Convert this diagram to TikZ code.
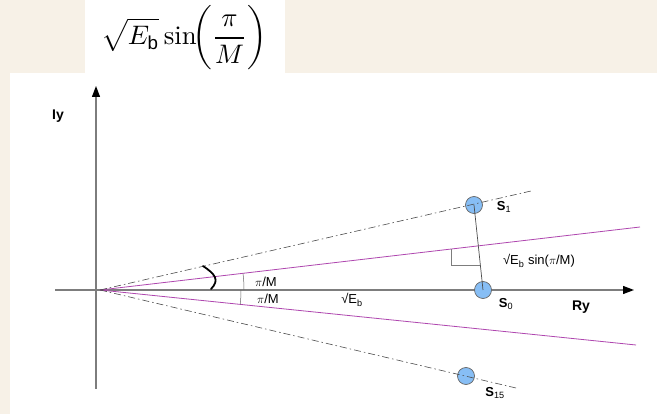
\documentclass[tikz,border=0pt]{standalone}
\usepackage{fontspec}
\usepackage{graphicx}
\setsansfont{Liberation Sans}
\usetikzlibrary{arrows.meta}

\definecolor{faded}{RGB}{247,241,231}
\definecolor{axisgray}{RGB}{125,125,125}
\definecolor{raypurple}{RGB}{175,70,175}
\definecolor{pointblue}{RGB}{135,190,245}

\begin{document}
\begin{tikzpicture}[x=1pt, y=-1pt,
        axis/.style = {axisgray, line width=1.3pt,
            -{Triangle[length=11pt, width=8pt, black]}},
        ray/.style = {raypurple, line width=0.8pt},
        dashdot/.style = {black!70, line width=0.6pt,
            dash pattern=on 7pt off 3pt on 1.5pt off 3pt},
        point/.style = {circle, draw=black!60, fill=pointblue,
            minimum size=17pt, inner sep=0pt, line width=0.7pt},
        lbl/.style = {font=\sffamily\fontsize{13}{15}\selectfont, inner sep=1pt},
        slbl/.style = {font=\sffamily\bfseries\fontsize{13}{15}\selectfont, inner sep=1pt}]
    % faded page behind the figure
    \fill[faded] (0,0) rectangle (657,414);
    \fill[white] (10,73) rectangle (657,414);
    \fill[white] (85,0) rectangle (285,73);
    \useasboundingbox (0,0) rectangle (657,414);

    \node[inner sep=0pt] (formula) at (184,38)
        {\resizebox{166pt}{!}{$\displaystyle\sqrt{E_{\mathsf{b}}}\sin\!\biggl(\frac{\pi}{M}\biggr)$}};

    % axes
    \coordinate (o) at (100,290);
    \coordinate (ybot) at (96,389);
    \coordinate (ytop) at (96,86);
    \coordinate (xleft) at (55,290);
    \coordinate (xright) at (634,290);
    \draw[axis] (ybot) -- (ytop);
    \draw[axis] (xleft) -- (xright);
    \node[font=\sffamily\bfseries\fontsize{14}{16}\selectfont] (iy) at (58,116) {Iy};
    \node[font=\sffamily\bfseries\fontsize{14}{16}\selectfont] (ry) at (581,307) {Ry};

    % signal points
    \node[point] (s0) at (483,290) {};
    \node[point] (s1) at (474,205) {};
    \node[point] (s15) at (466,376) {};
    \node[slbl] (s0lbl) at (506,304) {S\textsubscript{\mdseries 0}};
    \node[slbl] (s1lbl) at (504,207) {S\textsubscript{\mdseries 1}};
    \node[slbl] (s15lbl) at (495,393) {S\textsubscript{\mdseries 15}};

    % decision boundaries and symbol directions
    \coordinate (upend) at (640,227);
    \coordinate (lowend) at (636,345);
    \coordinate (s1end) at (531,191);
    \coordinate (s15end) at (516,388);
    \draw[ray] (o) -- (upend);
    \draw[ray] (o) -- (lowend);
    \draw[dashdot] (o) -- (s1end);
    \draw[dashdot] (o) -- (s15end);

    % distance to the boundary
    \draw[black!70, line width=0.7pt] (s1.center) -- (s0.center);
    \draw[axisgray, line width=0.6pt] (451,249) |- (480,265);
    \node[lbl] (dist) at (539,261) {√E\textsubscript{b} sin(\(\pi\)/M)};
    \node[lbl] (eb) at (352,300) {√E\textsubscript{b}};

    % angles
    \draw[black!60, line width=0.5pt] (244,290) arc[start angle=0, end angle=-6.6, radius=144];
    \draw[black!60, line width=0.5pt] (241,290) arc[start angle=0, end angle=5.9, radius=141];
    \node[lbl] (ang1) at (266,282) {\(\pi\)/M};
    \node[lbl] (ang2) at (268,299) {\(\pi\)/M};
    \draw[line width=1.8pt, line cap=round]
        (203,266) .. controls (215,274) and (220,280) .. (211,289);
\end{tikzpicture}
\end{document}
